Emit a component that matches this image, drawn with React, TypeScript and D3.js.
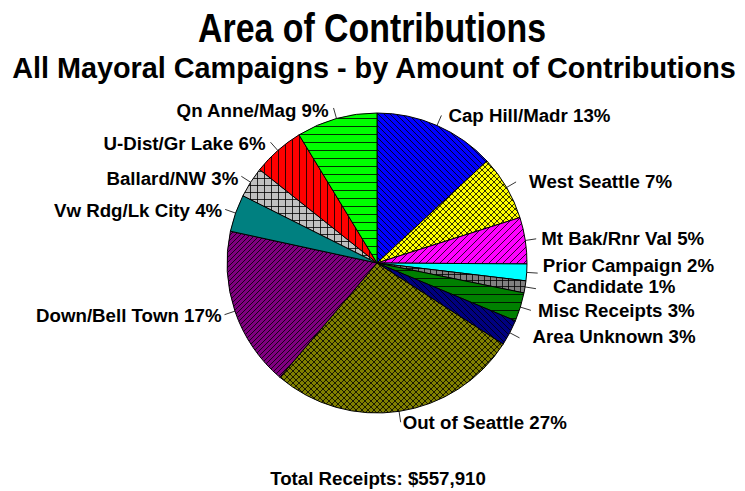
import React, { useEffect, useRef } from 'react';
import * as d3 from 'd3';

const areas = [
  'Cap Hill/Madr', 'West Seattle', 'Mt Bak/Rnr Val', 'Prior Campaign', 'Candidate',
  'Misc Receipts', 'Area Unknown', 'Out of Seattle', 'Down/Bell Town', 'Vw Rdg/Lk City',
  'Ballard/NW', 'U-Dist/Gr Lake', 'Qn Anne/Mag',
];
const shares = [13.1, 7.0, 5.0, 1.8, 1.3, 3.1, 2.8, 27.1, 17.2, 4.0, 3.3, 5.6, 8.7];
const totalReceipts = '$557,910';

// fill colour + hatch kind per slice
const fills = ['#0000ff', '#ffff00', '#ff00ff', '#00ffff', '#808080', '#008000', '#000080',
  '#808000', '#800080', '#008080', '#c0c0c0', '#ff0000', '#00ff00'];
const hatches = ['back', 'diamond', 'fwd', 'none', 'grid', 'horiz', 'back',
  'diamond', 'fwd', 'none', 'grid', 'vert', 'horiz'];
const hatchSize = [6, 6, 7, 0, 6, 8, 6, 6, 5, 0, 7, 7, 8];

// small label nudges where the labels would collide
const nudges: [number, number][] = [[2, 1], [8, 0], [0, 0], [0, -7], [12, -2], [2, 1], [8, -1],
  [-3, 1], [0, 1], [0, 2], [0, 3], [-2, 2], [-2, 3]];

export default function App() {
  const svgRef = useRef<SVGSVGElement | null>(null);

  useEffect(() => {
    if (!svgRef.current) return;
    const width = 745;
    const height = 491;
    const cx = 377, cy = 263, r = 150;
    const font = "'Liberation Sans', Arial, sans-serif";

    const svg = d3.select(svgRef.current);
    svg.selectAll('*').remove();
    svg.attr('width', width).attr('height', height);

    const defs = svg.append('defs');
    hatches.forEach((h, i) => {
      if (h === 'none') return;
      const s = hatchSize[i];
      const p = defs.append('pattern')
        .attr('id', `hatch${i}`)
        .attr('patternUnits', 'userSpaceOnUse')
        .attr('width', s).attr('height', s);
      p.append('rect').attr('width', s).attr('height', s).attr('fill', fills[i]);
      const line = (x1: number, y1: number, x2: number, y2: number) =>
        p.append('line').attr('x1', x1).attr('y1', y1).attr('x2', x2).attr('y2', y2)
          .attr('stroke', '#000').attr('stroke-width', 0.8);
      if (h === 'back' || h === 'diamond') {
        line(0, 0, s, s); line(-s, 0, 0, s); line(s, 0, 2 * s, s);
      }
      if (h === 'fwd' || h === 'diamond') {
        line(0, s, s, 0); line(-s, s, 0, 0); line(s, s, 2 * s, 0);
      }
      if (h === 'horiz' || h === 'grid') line(0, s - 0.5, s, s - 0.5);
      if (h === 'vert' || h === 'grid') line(s - 0.5, 0, s - 0.5, s);
    });

    const data = areas.map((name, i) => ({ name, value: shares[i], i }));
    const pie = d3.pie<any>().sort(null).value(d => d.value);
    const arcs = pie(data);
    const arc = d3.arc<any>().innerRadius(0).outerRadius(r);

    const g = svg.append('g').attr('transform', `translate(${cx},${cy})`);
    g.selectAll('path.slice')
      .data(arcs)
      .enter().append('path')
      .attr('class', 'slice')
      .attr('d', arc)
      .attr('fill', d => hatches[d.data.i] === 'none' ? fills[d.data.i] : `url(#hatch${d.data.i})`)
      .attr('stroke', '#000')
      .attr('stroke-width', 1);

    // leader lines and labels
    arcs.forEach(a => {
      const mid = (a.startAngle + a.endAngle) / 2;
      const sx = Math.sin(mid), sy = -Math.cos(mid);
      const p0 = [sx * r, sy * r];
      const p1 = [sx * (r + 11), sy * (r + 11)];
      g.append('line')
        .attr('x1', p0[0]).attr('y1', p0[1])
        .attr('x2', p1[0]).attr('y2', p1[1])
        .attr('stroke', '#000').attr('stroke-width', 0.8);
      const right = sx >= 0;
      const [dx, dy] = nudges[a.data.i];
      g.append('text')
        .attr('x', p1[0] + (right ? 5 : -3) + dx)
        .attr('y', p1[1] + 6 + dy)
        .attr('text-anchor', right ? 'start' : 'end')
        .attr('font-family', font)
        .attr('font-weight', 'bold')
        .attr('font-size', 18.7)
        .attr('fill', '#000')
        .text(`${a.data.name} ${Math.round(a.data.value)}%`);
    });

    svg.append('text')
      .attr('x', 372).attr('y', 42)
      .attr('text-anchor', 'middle')
      .attr('font-family', font).attr('font-weight', 'bold')
      .attr('font-size', 40)
      .attr('textLength', 348).attr('lengthAdjust', 'spacingAndGlyphs')
      .text('Area of Contributions');

    svg.append('text')
      .attr('x', 374).attr('y', 78)
      .attr('text-anchor', 'middle')
      .attr('font-family', font).attr('font-weight', 'bold')
      .attr('font-size', 28.8)
      .text('All Mayoral Campaigns - by Amount of Contributions');

    svg.append('text')
      .attr('x', 378).attr('y', 485)
      .attr('text-anchor', 'middle')
      .attr('font-family', font).attr('font-weight', 'bold')
      .attr('font-size', 18.7)
      .text(`Total Receipts: ${totalReceipts}`);
  }, []);

  return (
    <svg ref={svgRef} style={{ position: 'absolute', left: 0, top: 0, background: '#fff' }}></svg>
  );
}
